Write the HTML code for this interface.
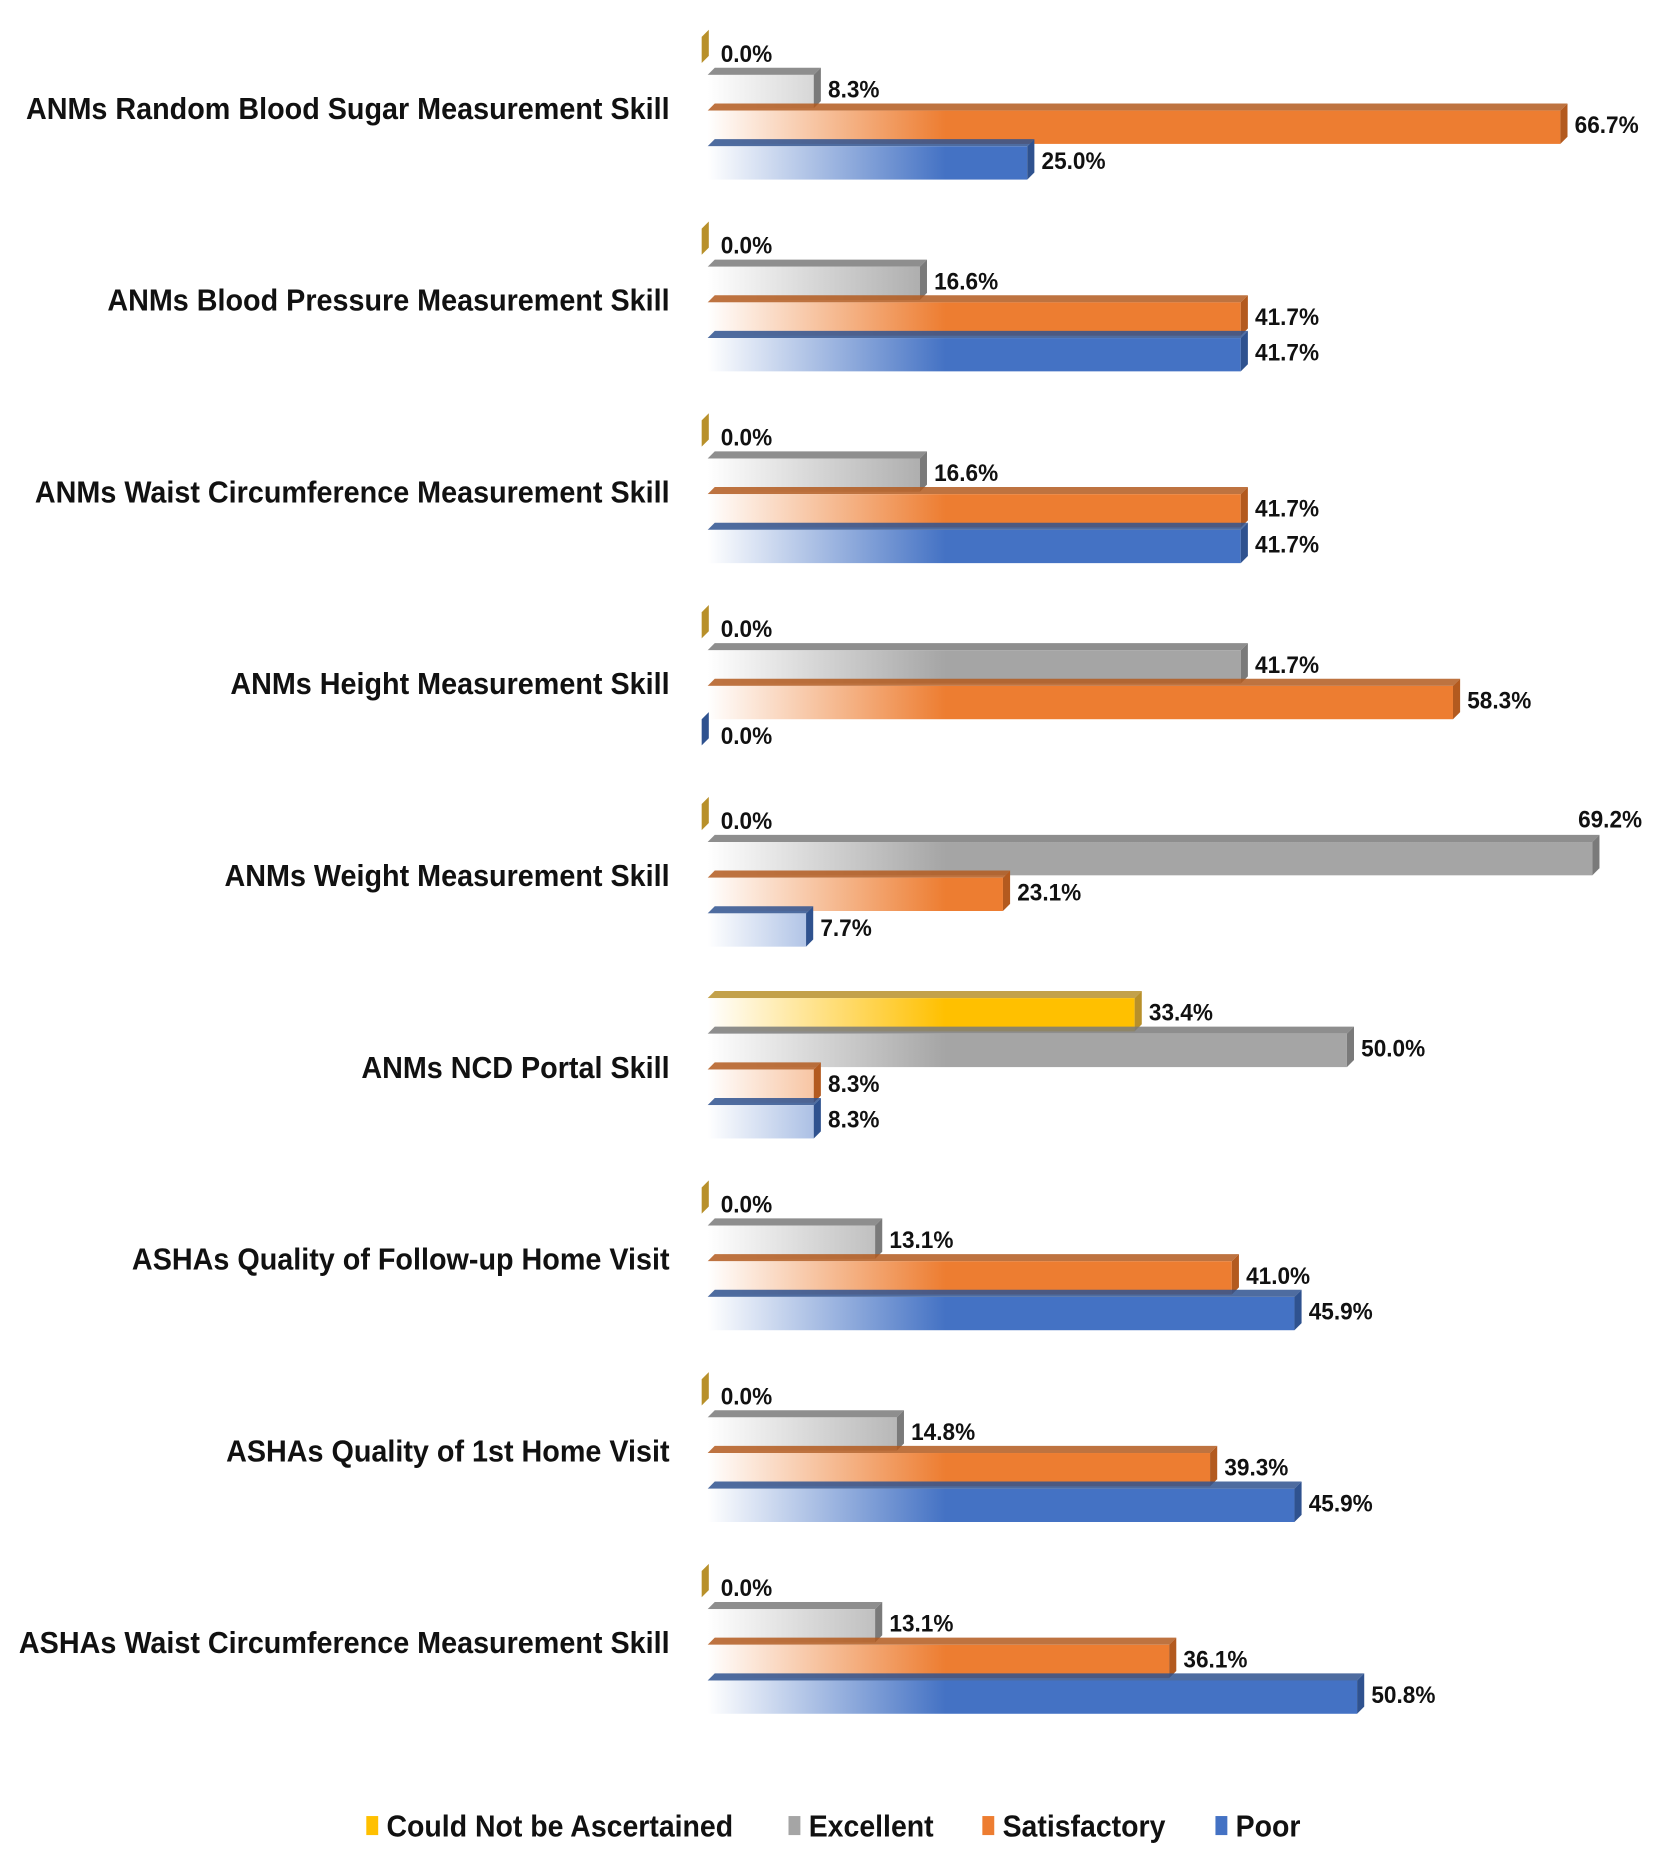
<!DOCTYPE html>
<html><head><meta charset="utf-8"><style>
html,body{margin:0;padding:0;background:#fff;}
svg{display:block;}
text{font-family:"Liberation Sans Narrow","Liberation Sans",sans-serif;font-weight:bold;fill:#111;}
</style></head>
<body>
<svg id="chart" width="1665" height="1866" viewBox="0 0 1400 1569" preserveAspectRatio="none" xmlns="http://www.w3.org/2000/svg">
<defs id="defs"></defs>
<g id="bars"></g>
<g id="legend"></g>
</svg>
<script>
const categories = ["ANMs Random Blood Sugar Measurement Skill","ANMs Blood Pressure Measurement Skill","ANMs Waist Circumference Measurement Skill","ANMs Height Measurement Skill","ANMs Weight Measurement Skill","ANMs NCD Portal Skill","ASHAs Quality of Follow-up Home Visit","ASHAs Quality of 1st  Home Visit","ASHAs Waist Circumference Measurement Skill"];
const seriesNames = ["Could Not be Ascertained","Excellent","Satisfactory","Poor"];
const couldNot = [0,0,0,0,0,33.4,0,0,0];
const excellent = [8.3,16.6,16.6,41.7,69.2,50.0,13.1,14.8,13.1];
const satisfactory = [66.7,41.7,41.7,58.3,23.1,8.3,41.0,39.3,36.1];
const poor = [25.0,41.7,41.7,0,7.7,8.3,45.9,45.9,50.8];

const series=[couldNot,excellent,satisfactory,poor];
const colors=["#FFC000","#A5A5A5","#ED7D31","#4472C4"];
const darks=["#B8902A","#7A7A7A","#B35A1F","#2F528F"];
const ns="http://www.w3.org/2000/svg";
const X0=595, PX=10.75;
function xs(v){return X0+v*PX;}
function ys(g,i){return 33+g*161.25+i*30;}
const BH=28, D=6;
const defs=document.getElementById('defs');
colors.forEach((c,i)=>{
  const lg=document.createElementNS(ns,'linearGradient');
  lg.setAttribute('id','g'+i);lg.setAttribute('gradientUnits','userSpaceOnUse');
  lg.setAttribute('x1',X0);lg.setAttribute('x2',X0+200);lg.setAttribute('y1',0);lg.setAttribute('y2',0);
  lg.innerHTML='<stop offset="0" stop-color="#fff"/><stop offset="1" stop-color="'+c+'"/>';
  defs.appendChild(lg);
});
const gb=document.getElementById('bars');
function mk(tag,attrs,parent){const e=document.createElementNS(ns,tag);for(const k in attrs)e.setAttribute(k,attrs[k]);parent.appendChild(e);return e;}
categories.forEach((cat,g)=>{
  const tg=mk('g',{transform:`translate(563,${ys(0,2)+g*161.25+7}) scale(0.93,1)`},gb);
  const t=mk('text',{x:0,y:0,'text-anchor':'end','font-size':26},tg);
  
  
  t.textContent=cat;
  series.forEach((s,i)=>{
    const v=s[g], y=ys(g,i), x1=xs(v);
    const grp=mk('g',{},gb);
    
    
    if(v>0){
      mk('polygon',{points:`${X0},${y} ${X0+D},${y-D} ${x1+D},${y-D} ${x1},${y}`,fill:darks[i],opacity:0.85},grp);
      mk('rect',{x:X0,y:y,width:x1-X0,height:BH,fill:'url(#g'+i+')'},grp);
      mk('polygon',{points:`${x1},${y} ${x1+D},${y-D} ${x1+D},${y+BH-D} ${x1},${y+BH}`,fill:darks[i]},grp);
    } else {
      mk('polygon',{points:`${X0-5},${y-2} ${X0+1},${y-8} ${X0+1},${y+BH-14} ${X0-5},${y+BH-8}`,fill:darks[i]},grp);
    }
    let lx=(v>0?x1+D+6:X0+11), ly=y+BH/2+5;
    if(v>=69){lx=x1-12;ly=y-12;}
    const tg2=mk('g',{transform:`translate(${lx},${ly}) scale(0.95,1)`},gb);
    const lt=mk('text',{x:0,y:0,'font-size':20},tg2);
    
    
    lt.textContent=v.toFixed(1)+'%';
  });
});
const lg=document.getElementById('legend');
const legX=[308,663,826,1022];
seriesNames.forEach((n,i)=>{
  const e=mk('g',{},lg);
  
  
  mk('rect',{x:legX[i],y:1527,width:10,height:16,fill:colors[i]},e);
  const tg=mk('g',{transform:`translate(${legX[i]+17},1544) scale(0.92,1)`},e);
  const t=mk('text',{x:0,y:0,'font-size':26},tg);
  t.textContent=n;
});
</script>
</body></html>
